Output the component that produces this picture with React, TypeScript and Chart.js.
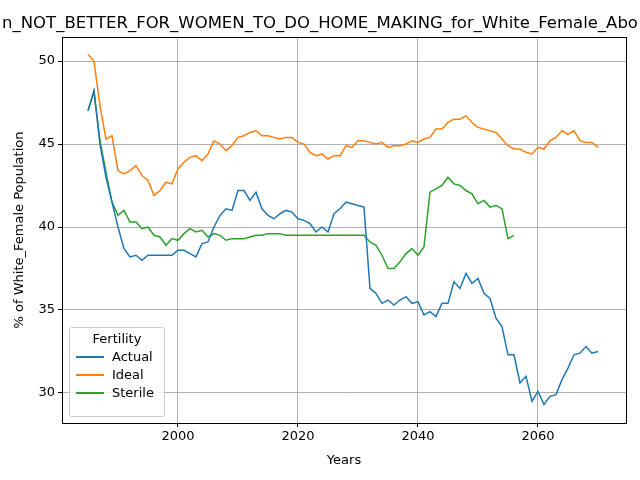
import React, { useEffect, useRef } from "react";
import { Chart, registerables } from "chart.js";
Chart.register(...registerables);

const years: number[] = [];
for (let y = 1985; y <= 2070; y++) years.push(y);

const actual = [47.0,48.2,45.0,43.0,41.5,40.0,38.7,38.2,38.3,38.0,38.3,38.3,38.3,38.3,38.3,38.6,38.6,38.4,38.2,39.0,39.1,40.0,40.7,41.1,41.0,42.2,42.2,41.6,42.1,41.1,40.7,40.5,40.8,41.0,40.9,40.5,40.4,40.2,39.7,40.0,39.7,40.8,41.1,41.5,41.4,41.3,41.2,36.3,36.0,35.4,35.6,35.3,35.6,35.8,35.4,35.5,34.7,34.9,34.6,35.4,35.4,36.7,36.3,37.2,36.6,36.9,36.0,35.7,34.5,34.0,32.3,32.3,30.6,31.0,29.5,30.1,29.3,29.8,29.9,30.8,31.5,32.3,32.4,32.8,32.4,32.5];
const ideal = [50.4,50.0,47.3,45.3,45.5,43.4,43.2,43.4,43.7,43.1,42.8,41.9,42.2,42.7,42.6,43.5,43.9,44.2,44.3,44.0,44.4,45.2,45.0,44.6,44.9,45.4,45.5,45.7,45.8,45.5,45.5,45.4,45.3,45.4,45.4,45.1,45.0,44.5,44.3,44.4,44.1,44.3,44.3,44.9,44.8,45.2,45.2,45.1,45.0,45.1,44.8,44.9,44.9,45.0,45.2,45.1,45.3,45.4,45.9,45.9,46.3,46.5,46.5,46.7,46.3,46.0,45.9,45.8,45.7,45.3,44.9,44.7,44.7,44.5,44.4,44.8,44.7,45.2,45.4,45.8,45.6,45.8,45.2,45.1,45.1,44.8];
const sterile = [47.0,48.2,45.2,43.3,41.5,40.7,41.0,40.3,40.3,39.9,40.0,39.5,39.4,38.9,39.3,39.2,39.6,39.9,39.7,39.8,39.4,39.6,39.5,39.2,39.3,39.3,39.3,39.4,39.5,39.5,39.6,39.6,39.6,39.5,39.5,39.5,39.5,39.5,39.5,39.5,39.5,39.5,39.5,39.5,39.5,39.5,39.5,39.1,38.9,38.3,37.5,37.5,37.9,38.4,38.7,38.3,38.8,42.1,42.3,42.5,43.0,42.6,42.5,42.2,42.0,41.4,41.6,41.2,41.3,41.1,39.3,39.5];

const seriesNames = ["Actual", "Ideal", "Sterile"];
const colors = ["#1f77b4", "#ff7f0e", "#2ca02c"];
const xTicks = [2000, 2020, 2040, 2060];
const yTicks = [30, 35, 40, 45, 50];
const titleText = "n_NOT_BETTER_FOR_WOMEN_TO_DO_HOME_MAKING_for_White_Female_Abo";

const frame = {
  id: "frame",
  afterDraw(chart: any) {
    const { ctx, chartArea: a } = chart;
    ctx.save();
    ctx.strokeStyle = "#000";
    ctx.lineWidth = 1;
    ctx.strokeRect(a.left + 0.5, a.top + 0.5, a.right - a.left, a.bottom - a.top);
    ctx.restore();
  },
};

export default function App() {
  const ref = useRef<HTMLCanvasElement>(null);
  useEffect(() => {
    document.body.style.margin = "0";
    const all = [actual, ideal, sterile];
    const chart = new Chart(ref.current!, {
      type: "line",
      data: {
        datasets: all.map((arr, i) => ({
          label: seriesNames[i],
          data: arr.map((v, j) => ({ x: years[j], y: v })),
          borderColor: colors[i],
          backgroundColor: colors[i],
          borderWidth: 1.5,
          pointRadius: 0,
          tension: 0,
        })),
      },
      options: {
        animation: false,
        responsive: false,
        layout: { padding: { top: 37, right: 14, left: 12, bottom: 12 } },
        plugins: { legend: { display: false }, title: { display: false }, tooltip: { enabled: false } },
        scales: {
          x: {
            type: "linear",
            min: 1980.67,
            max: 2074.67,
            afterFit: (s: any) => { s.height = 45; },
            afterBuildTicks: (s: any) => { s.ticks = xTicks.map((v) => ({ value: v })); },
            grid: { color: "#b0b0b0", tickColor: "#000", tickLength: 4 },
            border: { color: "#000" },
            ticks: { color: "#000", font: { family: "DejaVu Sans", size: 13 }, padding: 2, callback: (v: any) => String(v) },
            title: { display: true, text: "Years", color: "#000", font: { family: "DejaVu Sans", size: 13 }, padding: 0 },
          },
          y: {
            min: 28.19,
            max: 51.45,
            afterFit: (s: any) => { s.width = 50; },
            afterBuildTicks: (s: any) => { s.ticks = yTicks.map((v) => ({ value: v })); },
            grid: { color: "#b0b0b0", tickColor: "#000", tickLength: 4 },
            border: { color: "#000" },
            ticks: { color: "#000", font: { family: "DejaVu Sans", size: 13 }, padding: 3, callback: (v: any) => String(v) },
            title: { display: true, text: "% of White_Female Population", color: "#000", font: { family: "DejaVu Sans", size: 13 }, padding: 0 },
          },
        },
      },
      plugins: [frame],
    });
    return () => chart.destroy();
  }, []);
  return (
    <div style={{ position: "relative", width: 640, height: 480, fontFamily: "DejaVu Sans", overflow: "hidden" }}>
      <canvas ref={ref} width={640} height={480} />
      <div style={{ position: "absolute", top: 13, left: -200, width: 1040, textAlign: "center", fontSize: 16.5, whiteSpace: "nowrap", color: "#000" }}>{titleText}</div>
      <div style={{ position: "absolute", left: 69, top: 327, width: 94, height: 88, border: "1px solid #ccc", borderRadius: 3, background: "rgba(255,255,255,0.8)", fontSize: 13, color: "#000" }}>
        <div style={{ textAlign: "center", marginTop: 3 }}>Fertility</div>
        {seriesNames.map((n, i) => (
          <div key={n} style={{ display: "flex", alignItems: "center", marginLeft: 6, marginTop: 3 }}>
            <span style={{ display: "inline-block", width: 28, height: 2, background: colors[i], marginRight: 8 }} />
            {n}
          </div>
        ))}
      </div>
    </div>
  );
}
